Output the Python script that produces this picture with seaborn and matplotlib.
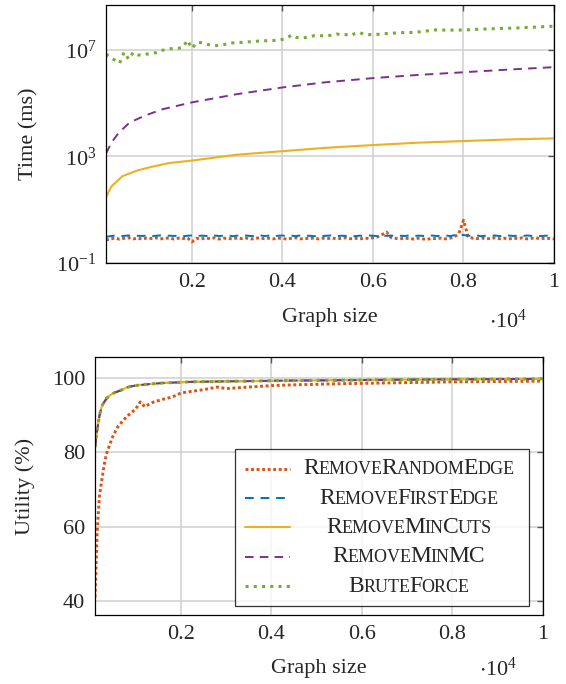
import numpy as np
import pandas as pd
import matplotlib
matplotlib.use("Agg")
import matplotlib.pyplot as plt
import seaborn as sns
from matplotlib.ticker import FixedLocator, FuncFormatter, NullLocator
from matplotlib.offsetbox import TextArea, HPacker, VPacker

# ---- data ----
methods = ["RemoveRandomEdge", "RemoveFirstEdge", "RemoveMinCuts", "RemoveMinMC", "BruteForce"]
colors = ["#D95319", "#0072BD", "#EDB120", "#7E2F8E", "#77AC30"]

# top panel: running time (ms)
size_fine = list(range(100, 10001, 100))
random_edge_ms = [
    0.72, 0.80, 0.86, 0.78, 0.84, 0.88, 0.80, 0.85, 0.79, 0.86,
    0.83, 0.88, 0.80, 0.84, 0.87, 0.79, 0.85, 0.82, 0.88, 0.62,
    0.84, 0.80, 0.86, 0.82, 0.88, 0.79, 0.85, 0.83, 0.80, 0.87,
    0.82, 0.86, 0.79, 0.84, 0.88, 0.81, 0.85, 0.80, 0.86, 0.83,
    0.78, 0.85, 0.88, 0.80, 0.84, 0.82, 0.87, 0.79, 0.85, 0.83,
    0.86, 0.80, 0.84, 0.88, 0.81, 0.85, 0.79, 0.86, 0.83, 0.88,
    0.95, 1.15, 1.45, 0.90, 0.84, 0.80, 0.86, 0.82, 0.79, 0.85,
    0.80, 0.77, 0.84, 0.81, 0.86, 0.80, 0.85, 0.95, 1.30, 4.00,
    1.00, 0.85, 0.82, 0.87, 0.80, 0.84, 0.88, 0.81, 0.85, 0.79,
    0.86, 0.82, 0.88, 0.80, 0.84, 0.87, 0.81, 0.85, 0.83, 0.80,
]
first_edge_ms = [
    0.95, 1.02, 1.06, 1.00, 1.04, 1.08, 1.01, 1.05, 1.03, 1.07,
    1.00, 1.05, 1.08, 1.02, 1.06, 1.03, 1.07, 1.01, 1.05, 1.08,
    1.02, 1.06, 1.04, 1.00, 1.07, 1.03, 1.05, 1.08, 1.01, 1.06,
    1.04, 1.07, 1.02, 1.05, 1.08, 1.03, 1.06, 1.01, 1.05, 1.07,
    1.03, 1.06, 1.02, 1.08, 1.04, 1.05, 1.01, 1.07, 1.03, 1.06,
    1.08, 1.02, 1.05, 1.04, 1.07, 1.01, 1.06, 1.03, 1.08, 1.05,
    1.02, 1.06, 1.04, 1.07, 1.01, 1.05, 1.03, 1.08, 1.02, 1.06,
    1.04, 1.01, 1.07, 1.03, 1.05, 1.08, 1.02, 1.10, 1.18, 1.12,
    1.05, 1.03, 1.07, 1.01, 1.06, 1.04, 1.08, 1.02, 1.05, 1.07,
    1.03, 1.06, 1.01, 1.08, 1.04, 1.06, 1.02, 1.05, 1.07, 1.04,
]
# brute force, log10 of ms
brute_force_log_ms = [
    6.83, 6.70, 6.60, 6.49, 6.90, 6.64, 6.89, 6.80, 6.79, 6.83,
    6.86, 6.88, 6.96, 6.99, 7.03, 7.04, 7.05, 7.08, 7.35, 7.04,
    7.26, 7.26, 7.22, 7.17, 7.14, 7.16, 7.18, 7.24, 7.25, 7.26,
    7.27, 7.29, 7.29, 7.30, 7.33, 7.33, 7.33, 7.34, 7.35, 7.38,
    7.44, 7.54, 7.46, 7.43, 7.45, 7.48, 7.52, 7.51, 7.52, 7.52,
    7.54, 7.58, 7.56, 7.56, 7.52, 7.60, 7.64, 7.57, 7.56, 7.56,
    7.57, 7.58, 7.60, 7.61, 7.62, 7.63, 7.64, 7.64, 7.64, 7.66,
    7.67, 7.70, 7.71, 7.74, 7.73, 7.73, 7.73, 7.73, 7.73, 7.74,
    7.74, 7.75, 7.76, 7.77, 7.77, 7.78, 7.78, 7.79, 7.80, 7.80,
    7.80, 7.81, 7.82, 7.83, 7.84, 7.84, 7.85, 7.86, 7.87, 7.87,
]
size_coarse = [100, 220, 460, 780, 1100, 1500, 2000, 3000, 4000, 5000,
               6000, 7000, 8000, 9000, 10000]
min_cuts_ms = [30, 74, 178, 290, 400, 560, 690, 1150, 1550, 2100,
               2630, 3240, 3720, 4270, 4680]
min_mc_ms = [1260, 3240, 7600, 18200, 32400, 57500, 105000, 214000, 380000,
             589000, 851000, 1120000, 1410000, 1780000, 2190000]
min_mc_size = [100, 220, 380, 620, 940, 1340, 2000, 3000, 4000, 4930,
               6000, 7000, 8000, 9000, 10000]

# bottom panel: utility (%)
size_util = [100, 150, 200, 250, 300, 350, 400, 500, 600, 700, 800, 900, 1000,
             1100, 1200, 1300, 1400, 1600, 1800, 2000, 2200, 2500, 2800, 3000,
             3500, 4000, 4500, 5000, 5500, 6000, 6500, 7000, 7500, 8000, 8500,
             9000, 9500, 10000]
util_random_edge = [41.0, 59.0, 68.5, 72.5, 76.5, 79.5, 81.2, 84.5, 86.8, 88.3,
                    89.6, 90.7, 91.7, 93.6, 92.3, 93.0, 93.6, 94.3, 94.9, 96.0,
                    96.4, 96.9, 97.6, 97.2, 97.6, 98.0, 98.2, 98.35, 98.5, 98.6,
                    98.7, 98.8, 98.9, 99.0, 99.05, 99.1, 99.15, 99.2]
util_first_edge = [81.0, 86.0, 90.0, 92.3, 93.5, 94.4, 95.0, 95.9, 96.4, 96.8,
                   97.5, 97.8, 98.0, 98.1, 98.3, 98.4, 98.5, 98.7, 98.8, 98.9,
                   99.0, 99.05, 99.1, 99.15, 99.2, 99.3, 99.35, 99.4, 99.45, 99.5,
                   99.55, 99.6, 99.65, 99.7, 99.72, 99.75, 99.78, 99.8]
util_min_cuts = [81.8, 86.3, 90.2, 92.4, 93.6, 94.5, 95.1, 95.9, 96.5, 96.9,
                 97.5, 97.8, 98.0, 98.2, 98.3, 98.4, 98.5, 98.7, 98.8, 98.9,
                 99.0, 99.05, 99.1, 99.15, 99.2, 99.3, 99.35, 99.4, 99.45, 99.5,
                 99.55, 99.6, 99.65, 99.7, 99.72, 99.75, 99.78, 99.8]
util_min_mc = [81.4, 86.0, 90.0, 92.3, 93.5, 94.4, 95.0, 95.9, 96.4, 96.8,
               97.5, 97.8, 98.0, 98.1, 98.3, 98.4, 98.5, 98.7, 98.8, 98.9,
               99.0, 99.05, 99.1, 99.15, 99.2, 99.3, 99.35, 99.4, 99.45, 99.5,
               99.55, 99.6, 99.65, 99.7, 99.72, 99.75, 99.78, 99.8]
util_brute_force = [81.6, 86.2, 90.1, 92.4, 93.6, 94.5, 95.1, 95.9, 96.5, 96.9,
                    97.5, 97.8, 98.0, 98.2, 98.3, 98.4, 98.5, 98.7, 98.8, 98.9,
                    99.0, 99.05, 99.1, 99.15, 99.2, 99.3, 99.35, 99.4, 99.45, 99.5,
                    99.55, 99.6, 99.65, 99.7, 99.72, 99.75, 99.78, 99.8]

x_ticks = [2000, 4000, 6000, 8000, 10000]

# ---- style ----
sns.set_theme(style="white")
plt.rcParams["font.family"] = ["Liberation Serif", "DejaVu Serif"]
plt.rcParams["mathtext.default"] = "regular"
plt.rcParams["axes.unicode_minus"] = True

line_styles = {
    "RemoveRandomEdge": dict(linestyle=(0, (1, 0.9)), linewidth=2.1),
    "RemoveFirstEdge": dict(linestyle=(0, (4.5, 3.5)), linewidth=1.4),
    "RemoveMinCuts": dict(linestyle="-", linewidth=1.5),
    "RemoveMinMC": dict(linestyle=(0, (4.4, 3.2)), linewidth=1.4),
    "BruteForce": dict(linestyle=(0, (1, 1.7)), linewidth=2.2),
}
FS = 16


def style_axes(ax, labelpad):
    ax.set_xlim(100, 10000)
    ax.xaxis.set_major_locator(FixedLocator(x_ticks))
    ax.xaxis.set_major_formatter(FuncFormatter(lambda v, p: f"{v / 1e4:g}"))
    ax.grid(True, color="#d0d0d0", linewidth=1.1)
    ax.set_axisbelow(True)
    ax.tick_params(direction="in", top=True, right=True, length=4,
                   width=1.0, color="#555555", labelsize=FS, pad=7)
    for sp in ax.spines.values():
        sp.set_color("black")
        sp.set_linewidth(0.9)
    ax.set_xlabel("Graph size", fontsize=FS, labelpad=labelpad)


fig = plt.figure(figsize=(5.66, 6.84), dpi=100)
ax1 = fig.add_axes([106 / 566, 1 - 263 / 684, 448 / 566, 258 / 684])
ax2 = fig.add_axes([95 / 566, 1 - 615 / 684, 448 / 566, 258 / 684])

# top: time
time_series = [
    (size_fine, random_edge_ms),
    (size_fine, first_edge_ms),
    (size_coarse, min_cuts_ms),
    (min_mc_size, min_mc_ms),
    (size_fine, list(np.power(10.0, brute_force_log_ms))),
]
for name, col, (xs, ys) in zip(methods, colors, time_series):
    sns.lineplot(x=xs, y=ys, ax=ax1, color=col, label=name, legend=False,
                 **line_styles[name])
ax1.set_yscale("log")
ax1.set_ylim(0.1, 10 ** 8.67)
ax1.yaxis.set_major_locator(FixedLocator([1e-1, 1e3, 1e7]))
ax1.yaxis.set_minor_locator(NullLocator())
ax1.set_ylabel("Time (ms)", fontsize=FS, labelpad=13)
style_axes(ax1, 12)
ax1.text(0.94, -0.225, r"$\cdot10^{4}$", transform=ax1.transAxes,
         ha="right", va="center", fontsize=FS)

# bottom: utility
util_series = [util_random_edge, util_first_edge, util_min_cuts,
               util_min_mc, util_brute_force]
for name, col, ys in zip(methods, colors, util_series):
    sns.lineplot(x=size_util, y=ys, ax=ax2, color=col, label=name,
                 legend=False, **line_styles[name])
ax2.set_ylim(36.2, 105.7)
ax2.yaxis.set_major_locator(FixedLocator([40, 60, 80, 100]))
ax2.set_ylabel("Utility (%)", fontsize=FS, labelpad=12)
style_axes(ax2, 11)
ax2.text(0.942, -0.212, r"$\cdot10^{4}$", transform=ax2.transAxes,
         ha="right", va="center", fontsize=FS)

handles, labels = ax2.get_legend_handles_labels()
leg = ax2.legend(handles, labels, loc="lower right",
                 bbox_to_anchor=(0.969, 0.035), borderaxespad=0,
                 fontsize=12, frameon=True, fancybox=False,
                 handlelength=2.75, handletextpad=0.45, labelspacing=0.5,
                 borderpad=0.55)
leg.get_frame().set_edgecolor("black")
leg.get_frame().set_linewidth(0.9)


# small caps labels, centred like pgfplots legends
def small_caps_box(label, big=17.0, small=13.0):
    runs = []
    for ch in label:
        up = ch.isupper()
        if runs and runs[-1][0] == up:
            runs[-1][1] += ch
        else:
            runs.append([up, ch])
    parts = [TextArea(txt.upper(), textprops=dict(fontsize=big if up else small,
                                                  family="Liberation Serif"))
             for up, txt in runs]
    return HPacker(children=parts, align="baseline", pad=0, sep=-0.6)


col_box = leg._legend_handle_box.get_children()[0]
for item, lab in zip(col_box.get_children(), labels):
    inner = small_caps_box(lab)
    box = VPacker(children=[inner], width=222, align="center", pad=0, sep=0)
    box.set_figure(fig)
    inner.set_figure(fig)
    for part in inner.get_children():
        part.set_figure(fig)
        part._text.set_figure(fig)
    item._children[1] = box

fig.savefig("out.png", dpi=100)
